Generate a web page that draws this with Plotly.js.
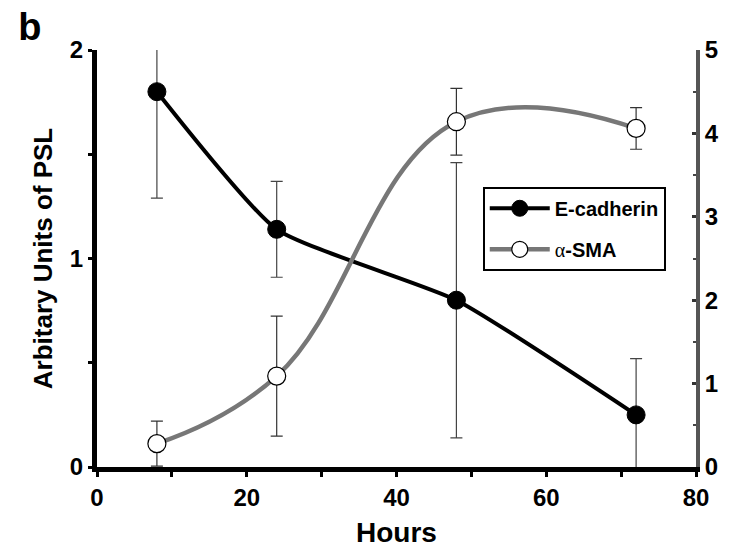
<!DOCTYPE html>
<html>
<head>
<meta charset="utf-8">
<script src="https://cdn.plot.ly/plotly-3.0.1.min.js"></script>
<style>html,body{margin:0;padding:0;background:#fff;}#chart{width:731px;height:550px;}</style>
</head>
<body>
<div id="chart"></div>
<script>
// Data
const hours = [8, 24, 48, 72];
const ecadherin = [1.80, 1.14, 0.80, 0.25];
const ecadherinErr = [0.51, 0.23, 0.66, 0.27];
const sma = [0.28, 1.09, 4.14, 4.06];
const smaErr = [0.27, 0.72, 0.40, 0.25];
const xTicks = [0, 20, 40, 60, 80];
const yLeftTicks = [0, 1, 2];
const yRightTicks = [0, 1, 2, 3, 4, 5];

const FONT = 'Liberation Sans, Arial, Helvetica, sans-serif';

const traces = [
  {
    x: hours, y: ecadherin, name: 'E-cadherin', type: 'scatter', mode: 'lines+markers',
    legendgroup: 'a',
    line: {color: '#000', width: 4, shape: 'spline', smoothing: 0.5},
    marker: {symbol: 'circle', size: 18, color: '#000', line: {color: '#000', width: 1}},
    error_y: {type: 'data', array: ecadherinErr, visible: true, color: '#444', thickness: 1.2, width: 6},
    yaxis: 'y'
  },
  {
    x: hours, y: sma, name: '<span style="font-family:Liberation Serif,Times New Roman,serif;font-weight:normal">α</span>-SMA', type: 'scatter', mode: 'lines+markers',
    legendgroup: 'b',
    line: {color: '#777', width: 4.5, shape: 'spline', smoothing: 1.2},
    marker: {symbol: 'circle', size: 18, color: '#fff', line: {color: '#000', width: 1.2}},
    error_y: {type: 'data', array: smaErr, visible: true, color: '#333', thickness: 1.2, width: 6},
    yaxis: 'y2'
  }
];

const layout = {
  width: 731, height: 550,
  margin: {l: 97, r: 35, t: 50, b: 83},
  paper_bgcolor: '#fff', plot_bgcolor: '#fff',
  font: {family: FONT, color: '#000', size: 20},
  showlegend: true,
  title: {text: '<b>b</b>', font: {size: 38, family: FONT, color: '#000'}, x: 0.025, xanchor: 'left', xref: 'container', y: 0.952, yanchor: 'middle', yref: 'container'},
  xaxis: {
    range: [0, 80], tickvals: xTicks, ticktext: xTicks.map(String),
    showline: true, linecolor: '#000', linewidth: 5, showgrid: false, zeroline: false,
    ticks: 'outside', ticklen: 5, tickwidth: 3, tickcolor: '#000',
    minor: {dtick: 10, ticks: 'outside', ticklen: 5, tickwidth: 3, tickcolor: '#000', showgrid: false},
    tickfont: {size: 24, family: FONT, weight: 'bold'},
    title: {text: '<b>Hours</b>', font: {size: 28, family: FONT}, standoff: 14}
  },
  yaxis: {
    range: [0, 2], tickvals: yLeftTicks, ticktext: yLeftTicks.map(String),
    showline: true, linecolor: '#000', linewidth: 5, showgrid: false, zeroline: false,
    ticks: 'outside', ticklen: 4, tickwidth: 3, tickcolor: '#000',
    minor: {dtick: 0.5, ticks: 'outside', ticklen: 4, tickwidth: 3, tickcolor: '#000', showgrid: false},
    tickfont: {size: 24, family: FONT, weight: 'bold'},
    title: {text: '<b>Arbitary Units of PSL</b>', font: {size: 26, family: FONT}, standoff: 11}
  },
  yaxis2: {
    overlaying: 'y', side: 'right', anchor: 'x',
    range: [0, 5], tickvals: yRightTicks, ticktext: yRightTicks.map(String),
    showline: true, linecolor: '#555', linewidth: 4, showgrid: false, zeroline: false,
    ticks: 'inside', ticklen: 4, tickwidth: 3, tickcolor: '#333',
    minor: {dtick: 0.5, ticks: 'inside', ticklen: 3, tickwidth: 2, tickcolor: '#444', showgrid: false},
    tickfont: {size: 24, family: FONT, weight: 'bold'}
  },
  legend: {
    x: 0.644, y: 0.672, xanchor: 'left', yanchor: 'top',
    bgcolor: '#fff', bordercolor: '#000', borderwidth: 2,
    font: {size: 20, family: FONT, weight: 'bold'},
    itemwidth: 60,
    traceorder: 'grouped', tracegroupgap: 12
  }
};

Plotly.newPlot('chart', traces, layout, {staticPlot: true});
</script>
</body>
</html>
